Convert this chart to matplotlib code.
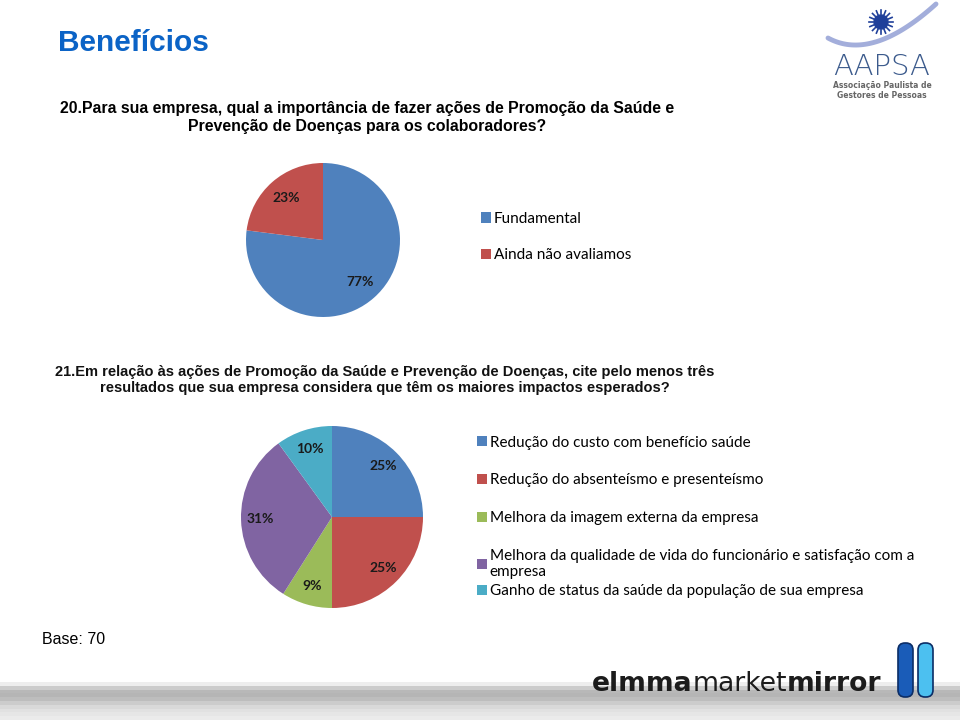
import matplotlib
matplotlib.use("Agg")
import matplotlib.pyplot as plt
import numpy as np
from matplotlib.patches import FancyBboxPatch, Circle

# dados
titulo = "Benefícios"
perg20 = ("20.Para sua empresa, qual a importância de fazer ações de Promoção da Saúde e\n"
          "Prevenção de Doenças para os colaboradores?")
perg21 = ("21.Em relação às ações de Promoção da Saúde e Prevenção de Doenças, cite pelo menos três\n"
          "resultados que sua empresa considera que têm os maiores impactos esperados?")
base = "Base: 70"

cat20 = ["Fundamental", "Ainda não avaliamos"]
val20 = [77, 23]
cor20 = ["#4F81BD", "#C0504D"]

cat21 = ["Redução do custo com benefício saúde",
         "Redução do absenteísmo e presenteísmo",
         "Melhora da imagem externa da empresa",
         "Melhora da qualidade de vida do funcionário e satisfação com a\nempresa",
         "Ganho de status da saúde da população de sua empresa"]
val21 = [25, 25, 9, 31, 10]
cor21 = ["#4F81BD", "#C0504D", "#9BBB59", "#8064A2", "#4BACC6"]

W, H = 960, 720
fig = plt.figure(figsize=(9.6, 7.2), dpi=100)

# faixa cinza inferior (desenhada primeiro, fica atras)
grad = np.array([0.93, 0.80, 0.72, 0.71, 0.74, 0.80, 0.85, 0.88, 0.90, 0.92])
gax = fig.add_axes([0, 0, 1, 38 / H])
gax.imshow(grad[:, None], cmap="gray", vmin=0, vmax=1, aspect="auto",
           extent=[0, 1, 0, 1])
gax.axis("off")

# fundo em coordenadas de pixel
bg = fig.add_axes([0, 0, 1, 1])
bg.set_xlim(0, W)
bg.set_ylim(H, 0)
bg.axis("off")
bg.patch.set_visible(False)

bg.text(58, 43, titulo, fontsize=21.5, fontweight="bold", color="#0B63C6",
        family="Liberation Sans", va="center", ha="left")
bg.text(367, 117, perg20, fontsize=11.4, fontweight="bold", color="black",
        family="Liberation Sans", va="center", ha="center", linespacing=1.25)
bg.text(385, 380, perg21, fontsize=10.5, fontweight="bold", color="#111111",
        family="Liberation Sans", va="center", ha="center", linespacing=1.25)
bg.text(42, 640, base, fontsize=11.5, color="black", family="Liberation Sans",
        va="center", ha="left")

lbl = dict(fontsize=10, fontweight="bold", color="#1a1a1a", family="Lato")
leg = dict(frameon=False, handlelength=0.65, handleheight=0.65, handletextpad=0.2,
           borderpad=0, prop=dict(family="Lato", size=11))

# pizza 20
r1, cx1, cy1 = 77, 323, 240
ax1 = fig.add_axes([(cx1 - r1) / W, (H - cy1 - r1) / H, 2 * r1 / W, 2 * r1 / H])
w1, t1, p1 = ax1.pie(val20, colors=cor20, startangle=90, counterclock=False,
                     autopct="%1.0f%%", pctdistance=0.72,
                     wedgeprops=dict(linewidth=0), textprops=lbl)
ax1.set_xlim(-1, 1)
ax1.set_ylim(-1, 1)
ax1.axis("off")
fig.legend(w1, cat20, loc="center left", bbox_to_anchor=(473 / W, 1 - 237 / H),
           labelspacing=1.45, **leg)

# pizza 21
r2, cx2, cy2 = 91, 332, 517
ax2 = fig.add_axes([(cx2 - r2) / W, (H - cy2 - r2) / H, 2 * r2 / W, 2 * r2 / H])
w2, t2, p2 = ax2.pie(val21, colors=cor21, startangle=90, counterclock=False,
                     autopct="%1.0f%%", pctdistance=0.79,
                     wedgeprops=dict(linewidth=0), textprops=lbl)
ax2.set_xlim(-1, 1)
ax2.set_ylim(-1, 1)
ax2.axis("off")
fig.legend(w2[:4], cat21[:4], loc="upper left",
           bbox_to_anchor=(469 / W, 1 - 428 / H), labelspacing=1.55, **leg)
fig.legend(w2[4:], cat21[4:], loc="center left",
           bbox_to_anchor=(469 / W, 1 - 591 / H), **leg)

# logo AAPSA
s = np.linspace(0, 1, 60)
bx = (1 - s) ** 2 * 828 + 2 * (1 - s) * s * 872 + s ** 2 * 936
by = (1 - s) ** 2 * 38 + 2 * (1 - s) * s * 62 + s ** 2 * 4
bg.plot(bx, by, color="#a3aedb", lw=3.5, solid_capstyle="round")
bg.add_patch(Circle((881, 22), 7, color="#1f3f9a"))
for a in np.linspace(0, 2 * np.pi, 16, endpoint=False):
    bg.plot([881 + 8 * np.cos(a), 881 + 12 * np.cos(a)],
            [22 + 8 * np.sin(a), 22 + 12 * np.sin(a)], color="#1f3f9a", lw=1.2)
bg.text(882, 67, "AAPSA", fontsize=21, color="#3b5a8c", family="DejaVu Sans",
        fontweight="light", ha="center", va="center")
bg.text(882, 86, "Associação Paulista de", fontsize=5.5, color="#666666",
        fontweight="bold", family="DejaVu Sans", ha="center", va="center")
bg.text(882, 96, "Gestores de Pessoas", fontsize=5.5, color="#666666",
        fontweight="bold", family="DejaVu Sans", ha="center", va="center")

# logo elmmamarketmirror
renderer = fig.canvas.get_renderer()
partes = [("elmma", "bold"), ("market", "normal"), ("mirror", "bold")]
total = 0
for parte, peso in partes:
    t = bg.text(0, 0, parte, fontsize=24, fontweight=peso, family="DejaVu Sans")
    total += t.get_window_extent(renderer).width
    t.remove()
fs = 24 * 290 / total
x = 592
for parte, peso in partes:
    t = bg.text(x, 684, parte, fontsize=fs, fontweight=peso, color="#1c1c1c",
                family="DejaVu Sans", ha="left", va="center")
    x += t.get_window_extent(renderer).width
bg.add_patch(FancyBboxPatch((898, 643), 15, 54, boxstyle="round,pad=0,rounding_size=7",
                            fc="#1a5cb8", ec="#0b2d66", lw=1.2))
bg.add_patch(FancyBboxPatch((918, 643), 15, 54, boxstyle="round,pad=0,rounding_size=7",
                            fc="#4cc0f0", ec="#0b2d66", lw=1.2))

fig.savefig("out.png", dpi=100)
